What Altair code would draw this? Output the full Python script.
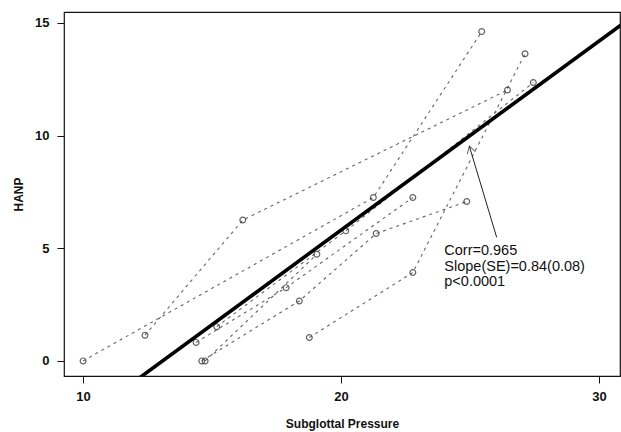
import altair as alt
import pandas as pd

# ---- data ----
subject = [1, 1, 1, 2, 2, 2, 3, 3, 3, 4, 4, 4, 5, 5, 5, 6, 6, 6, 6, 7, 7]
pressure = [10.0, 21.25, 25.45, 12.4, 16.19, 26.45, 18.77, 22.78, 27.13,
            14.38, 17.87, 22.78, 15.18, 20.18, 27.45, 14.6, 18.38, 21.36, 24.87,
            14.73, 19.06]
hanp = [0.0, 7.25, 14.61, 1.14, 6.25, 12.02, 1.04, 3.92, 13.63,
        0.82, 3.25, 7.25, 1.52, 5.77, 12.35, 0.0, 2.66, 5.65, 7.07,
        0.0, 4.73]

fit_x = [12.2, 30.9]
fit_y = [-0.74, 14.95]

note_lines = ["Corr=0.965", "Slope(SE)=0.84(0.08)", "p<0.0001"]
note_x = [24.0, 24.0, 24.0]
note_y = [4.86, 4.17, 3.48]

arrow_x = [26.03, 24.97]
arrow_y = [5.48, 9.53]

x_ticks = [10, 20, 30]
y_ticks = [0, 5, 10, 15]

FONT = "Liberation Sans"

df = pd.DataFrame({"subject": subject, "x": pressure, "y": hanp})
df["order"] = df.groupby("subject").cumcount()
fit = pd.DataFrame({"x": fit_x, "y": fit_y})
notes = pd.DataFrame({"x": note_x, "y": note_y, "t": note_lines})
arrow = pd.DataFrame({"x": arrow_x, "y": arrow_y, "i": [0, 1]})
tip = arrow.iloc[[1]]

xs = alt.Scale(domain=[9.26, 30.81], nice=False, zero=False)
ys = alt.Scale(domain=[-0.67, 15.48], nice=False, zero=False)

X = alt.X("x:Q", scale=xs, title="Subglottal Pressure",
          axis=alt.Axis(values=x_ticks, grid=False, domain=False, tickSize=7,
                        tickColor="#111", labelFontSize=13, labelFontWeight="bold",
                        labelColor="#111", labelPadding=7, labelFont=FONT,
                        titleFont=FONT, titleFontSize=12, titleFontWeight="bold",
                        titleColor="#111", titlePadding=15))
Y = alt.Y("y:Q", scale=ys, title="HANP",
          axis=alt.Axis(values=y_ticks, grid=False, domain=False, tickSize=7,
                        tickColor="#111", labelFontSize=13, labelFontWeight="bold",
                        labelColor="#111", labelPadding=8, labelFont=FONT,
                        titleFont=FONT, titleFontSize=12, titleFontWeight="bold",
                        titleColor="#111", titlePadding=9))

lines = alt.Chart(df).mark_line(color="#666", strokeWidth=1.1, strokeDash=[3, 4]).encode(
    x=X, y=Y, detail="subject:N", order="order:Q")
pts = alt.Chart(df).mark_point(shape="circle", filled=False, color="#222",
                               size=34, strokeWidth=1.2).encode(
    x=alt.X("x:Q", scale=xs), y=alt.Y("y:Q", scale=ys))
fitline = alt.Chart(fit).mark_line(color="black", strokeWidth=3.6, clip=True).encode(
    x=alt.X("x:Q", scale=xs), y=alt.Y("y:Q", scale=ys))
arr = alt.Chart(arrow).mark_line(color="#222", strokeWidth=1).encode(
    x=alt.X("x:Q", scale=xs), y=alt.Y("y:Q", scale=ys), order="i:Q")
head = alt.Chart(tip).mark_point(shape="M -0.6 1 L 0 0 L 0.6 1", filled=False,
                                 color="#222", size=200, strokeWidth=1,
                                 angle=343).encode(
    x=alt.X("x:Q", scale=xs), y=alt.Y("y:Q", scale=ys))
txt = alt.Chart(notes).mark_text(align="left", baseline="middle", font=FONT,
                                 fontSize=14.5, color="#111").encode(
    x=alt.X("x:Q", scale=xs), y=alt.Y("y:Q", scale=ys), text="t:N")

chart = alt.layer(lines, pts, fitline, arr, head, txt).properties(
    width=556, height=364,
    autosize=alt.AutoSizeParams(type="none"),
    padding={"left": 64, "top": 12, "right": 1, "bottom": 56},
    background="white",
).configure_view(stroke="#111", strokeWidth=1.2)

chart.save("out.html", embed_options={"renderer": "svg", "actions": False})
